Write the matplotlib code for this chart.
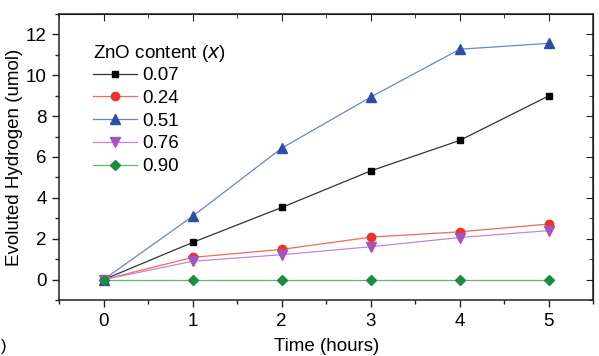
import matplotlib
matplotlib.use("Agg")
import matplotlib.pyplot as plt
from matplotlib.ticker import MultipleLocator

plt.rcParams["font.family"] = ["Liberation Sans", "DejaVu Sans"]

hours = [0, 1, 2, 3, 4, 5]
zno_labels = ["0.07", "0.24", "0.51", "0.76", "0.90"]
h2_007 = [0, 1.82, 3.53, 5.32, 6.81, 8.99]
h2_024 = [0, 1.09, 1.48, 2.08, 2.34, 2.72]
h2_051 = [0, 3.10, 6.43, 8.93, 11.27, 11.56]
h2_076 = [0, 0.90, 1.22, 1.61, 2.06, 2.40]
h2_090 = [0, 0, 0, 0, 0, 0]

series = [h2_007, h2_024, h2_051, h2_076, h2_090]
markers = ["s", "o", "^", "v", "D"]
mcolors = ["#000000", "#ee3326", "#2b4ea6", "#a454bc", "#1e8c3e"]
lcolors = ["#333333", "#f06a5a", "#6f82cf", "#c486d4", "#63b46c"]
msizes = [5, 6, 6.5, 6.5, 5]

fig = plt.figure(figsize=(5.99, 3.56), dpi=100)
ax = fig.add_axes([0.0985, 0.157, 0.892, 0.804])

for y, lab, m, mc, lc, ms in zip(series, zno_labels, markers, mcolors, lcolors, msizes):
    ax.plot(hours, y, color=lc, lw=0.9, marker=m, markersize=ms,
            markerfacecolor=mc, markeredgecolor=mc, label=lab)

ax.set_xlim(-0.5, 5.5)
ax.set_ylim(-1, 13)
ax.xaxis.set_major_locator(MultipleLocator(1))
ax.xaxis.set_minor_locator(MultipleLocator(0.5))
ax.yaxis.set_major_locator(MultipleLocator(2))
ax.yaxis.set_minor_locator(MultipleLocator(1))
ax.tick_params(which="both", direction="out", labelsize=13.5, width=1, color="#222222")
ax.tick_params(which="major", length=5, pad=4)
ax.tick_params(which="minor", length=3)

# top/right ticks point inward like the original (Origin style)
sec_x = ax.secondary_xaxis("top")
sec_x.xaxis.set_major_locator(MultipleLocator(1))
sec_x.xaxis.set_minor_locator(MultipleLocator(0.5))
sec_x.tick_params(which="both", direction="in", labeltop=False, color="#222222")
sec_x.tick_params(which="major", length=5)
sec_x.tick_params(which="minor", length=3)
sec_y = ax.secondary_yaxis("right")
sec_y.yaxis.set_major_locator(MultipleLocator(2))
sec_y.yaxis.set_minor_locator(MultipleLocator(1))
sec_y.tick_params(which="both", direction="in", labelright=False, color="#222222")
sec_y.tick_params(which="major", length=5)
sec_y.tick_params(which="minor", length=3)

for s in ax.spines.values():
    s.set_linewidth(1.1)
    s.set_color("#222222")

ax.set_xlabel("Time (hours)", fontsize=13.5, labelpad=6)
ax.set_ylabel("Evoluted Hydrogen (umol)", fontsize=13.5, labelpad=2)

leg = ax.legend(title="ZnO content ($\\it{x}$)", loc="upper left",
                bbox_to_anchor=(0.047, 0.93), frameon=False, fontsize=13.5,
                title_fontsize=13.5, handlelength=2.3, handletextpad=0.3,
                labelspacing=0.3, borderpad=0)
leg._legend_box.align = "left"
leg._legend_box.sep = 2

fig.text(0.002, 0.015, ")", fontsize=12)

fig.savefig("out.png", dpi=100)
